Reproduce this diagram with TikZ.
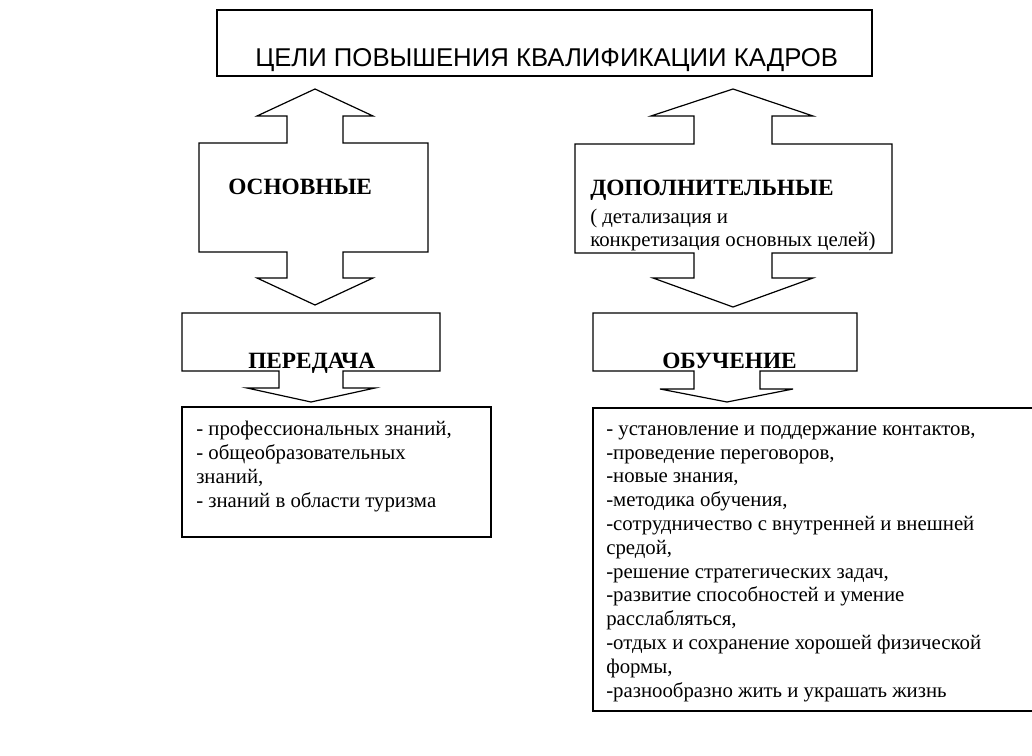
\documentclass[tikz,border=0pt]{standalone}
\usepackage{fontspec}
\setmainfont{Liberation Serif}
\newfontfamily\titlefont{Liberation Sans}
\usetikzlibrary{calc}
\tikzset{
  outline/.style={draw=black, line width=0.9pt, line join=miter},
  ttl/.style={font=\titlefont\fontsize{19.3}{23}\selectfont, inner sep=0pt, anchor=base west},
  head/.style={font=\fontsize{17.5}{21}\selectfont\bfseries, inner sep=0pt, anchor=base west},
  note/.style={font=\fontsize{15.6}{17.85}\selectfont, inner sep=0pt, anchor=base west, align=left},
}
\begin{document}
\begin{tikzpicture}[x=0.75pt, y=-0.75pt]
  \useasboundingbox (0,0) rectangle (1032,756);
  \clip (0,0) rectangle (1032,756);
  % top box
  \draw[outline] (217,10) rectangle (872,76);
  \node[ttl] (goals) at (255,67) {ЦЕЛИ ПОВЫШЕНИЯ КВАЛИФИКАЦИИ КАДРОВ};
  % left double arrow
  \draw[outline] (315,89) -- (257,116) -- (287,116) -- (287,143) -- (199,143)
    -- (199,252) -- (287,252) -- (287,278) -- (257,278) -- (315,305)
    -- (373,278) -- (343,278) -- (343,252) -- (428,252) -- (428,143)
    -- (343,143) -- (343,116) -- (373,116) -- cycle;
  \node[head] (basic) at (228,195) {ОСНОВНЫЕ};
  % right double arrow
  \draw[outline] (733,89) -- (651,116) -- (694,116) -- (694,144) -- (575,144)
    -- (575,253) -- (694,253) -- (694,278) -- (653,278) -- (733,307)
    -- (813,278) -- (772,278) -- (772,253) -- (892,253) -- (892,144)
    -- (772,144) -- (772,116) -- (813,116) -- cycle;
  \node[head] (extra) at (590,196) {ДОПОЛНИТЕЛЬНЫЕ};
  % base anchor of a multi-line node sits on its last line
  \node[note] (extranote) at (590,247) {( детализация и\\конкретизация основных целей)};
  % left single arrow
  \draw[outline] (182,313) -- (182,371) -- (279,371) -- (279,388) -- (247,388)
    -- (311,402) -- (375,388) -- (343,388) -- (343,371) -- (440,371)
    -- (440,313) -- cycle;
  \node[head] (transfer) at (248,368) {ПЕРЕДАЧА};
  % right single arrow
  \draw[outline] (593,313) -- (593,371) -- (694,371) -- (694,389) -- (660,389)
    -- (727,402) -- (793,389) -- (760,389) -- (760,371) -- (857,371)
    -- (857,313) -- cycle;
  \node[head] (training) at (662,368) {ОБУЧЕНИЕ};
  % lists
  \draw[outline] (182,407) rectangle (491,537);
  \node[note] (transferlist) at (196,507) {- профессиональных знаний,\\- общеобразовательных\\знаний,\\- знаний в области туризма};
  \draw[outline] (593,408) rectangle (1045,711);
  \node[note] (traininglist) at (606,697) {- установление и поддержание контактов,\\-проведение переговоров,\\-новые знания,\\-методика обучения,\\-сотрудничество с внутренней и внешней\\средой,\\-решение стратегических задач,\\-развитие способностей и умение\\расслабляться,\\-отдых и сохранение хорошей физической\\формы,\\-разнообразно жить и украшать жизнь};
\end{tikzpicture}
\end{document}
